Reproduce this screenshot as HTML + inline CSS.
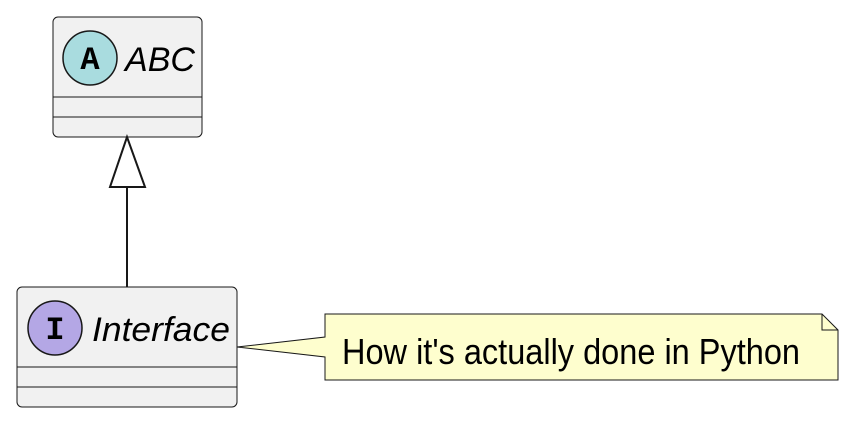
<!DOCTYPE html>
<html><head><meta charset="utf-8"><style>html,body{margin:0;padding:0;background:#fff}</style></head>
<body>
<svg width="855" height="422" xmlns="http://www.w3.org/2000/svg">
<rect x="53" y="17" width="149" height="120" rx="5" fill="#f1f1f1" stroke="#181818" stroke-width="1"/>
<circle cx="90" cy="58" r="27" fill="#a9dcdf" stroke="#181818" stroke-width="1.5"/>
<text x="90" y="69" text-anchor="middle" font-family="Liberation Mono, monospace" font-weight="bold" font-size="32">A</text>
<text x="125" y="71" font-family="Liberation Sans, sans-serif" font-style="italic" font-size="34" textLength="70" lengthAdjust="spacingAndGlyphs">ABC</text>
<line x1="53" y1="97" x2="202" y2="97" stroke="#181818"/>
<line x1="53" y1="117" x2="202" y2="117" stroke="#181818"/>

<rect x="17" y="287" width="220" height="120" rx="5" fill="#f1f1f1" stroke="#181818" stroke-width="1"/>
<circle cx="55" cy="328" r="27" fill="#b4a7e5" stroke="#181818" stroke-width="1.5"/>
<text x="55" y="339" text-anchor="middle" font-family="Liberation Mono, monospace" font-weight="bold" font-size="32">I</text>
<text x="92" y="341" font-family="Liberation Sans, sans-serif" font-style="italic" font-size="34" textLength="138" lengthAdjust="spacingAndGlyphs">Interface</text>
<line x1="17" y1="367" x2="237" y2="367" stroke="#181818"/>
<line x1="17" y1="387" x2="237" y2="387" stroke="#181818"/>

<line x1="127" y1="187" x2="127" y2="287" stroke="#181818" stroke-width="2"/>
<polygon points="127,137 110,187 145,187" fill="#fff" stroke="#181818" stroke-width="2"/>

<path d="M325,314 L822,314 L838,330 L838,380 L325,380 L325,357 L237,347 L325,337 Z" fill="#fefece" stroke="#181818" stroke-width="1"/>
<path d="M822,314 L822,330 L838,330" fill="none" stroke="#181818" stroke-width="1"/>
<text x="342" y="364" font-family="Liberation Sans, sans-serif" font-size="36" textLength="458" lengthAdjust="spacingAndGlyphs">How it's actually done in Python</text>
</svg>
</body></html>
